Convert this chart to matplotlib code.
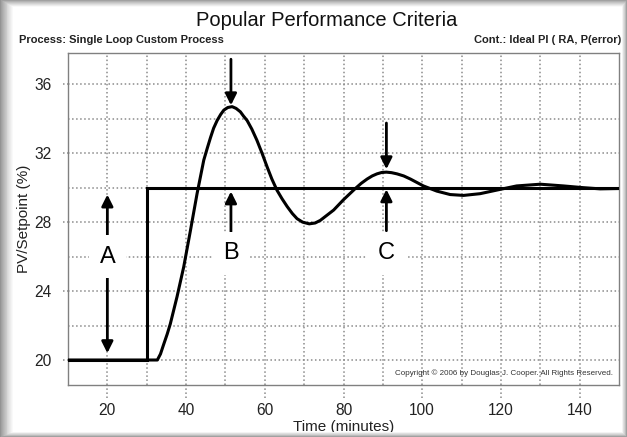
import numpy as np
import matplotlib
matplotlib.use("Agg")
import matplotlib.pyplot as plt
from matplotlib.patches import Rectangle

plt.rcParams['font.family'] = ['Liberation Sans', 'DejaVu Sans']

# data
time_pv = [10, 20, 30, 32.7, 33.5, 34.3, 35.2, 36.0, 37.7, 39.4, 41.1, 42.8, 44.5,
           45.4, 46.2, 47.0, 47.9, 48.8, 49.6, 50.6, 51.7, 52.7, 53.8, 54.6, 55.5,
           56.7, 58.0, 59.3, 60.6, 61.8, 63.1, 64.4, 65.7, 67.0, 68.2, 69.6, 71.3,
           72.8, 74.1, 75.8, 77.5, 80.0, 83.0, 84.5, 86.0, 87.3, 88.5, 89.7, 90.9,
           92.2, 93.6, 95.3, 97.0, 100.3, 103.7, 107.1, 110.5, 114.7, 119.8, 124.0,
           130.0, 135.9, 140.9, 145.2, 150]
pv = [20, 20, 20, 20.0, 20.35, 20.9, 21.5, 22.1, 23.67, 25.4, 27.5, 29.66, 31.6,
      32.3, 32.9, 33.45, 33.9, 34.25, 34.5, 34.65, 34.7, 34.6, 34.4, 34.15, 33.9,
      33.4, 32.75, 32.0, 31.2, 30.5, 29.85, 29.35, 28.9, 28.5, 28.2, 28.0, 27.9,
      27.95, 28.1, 28.4, 28.7, 29.3, 29.95, 30.25, 30.5, 30.68, 30.8, 30.88, 30.9,
      30.87, 30.8, 30.68, 30.5, 30.1, 29.8, 29.6, 29.55, 29.65, 29.9, 30.1,
      30.2, 30.1, 30.0, 29.93, 29.95]
time_sp = [10, 30, 30, 150]
setpoint = [20, 20, 30, 30]

xticks = [20, 40, 60, 80, 100, 120, 140]
yticks = [20, 24, 28, 32, 36]

marks = ["A", "B", "C"]
mark_x = [20, 51.4, 90.9]
mark_y = [26.0, 26.2, 26.2]

W, H = 627, 437
fig = plt.figure(figsize=(W / 100, H / 100), dpi=100)
fig.patch.set_facecolor('white')
ax = fig.add_axes([68 / W, 1 - 385 / H, (619 - 68) / W, (385 - 52.7) / H])

ax.plot(time_sp, setpoint, color='black', lw=2.2, solid_joinstyle='miter', zorder=3)
ax.plot(time_pv, pv, color='black', lw=2.2, solid_joinstyle='round', zorder=3)

ax.set_xlim(10, 150)
ax.set_ylim(18.55, 37.83)
ax.set_xticks(xticks)
ax.set_yticks(yticks)
ax.set_xticks(np.arange(30, 150, 20), minor=True)
ax.set_yticks(np.arange(22, 37, 4), minor=True)
ax.grid(True, which='both', color='#8a8a8a', ls=':', lw=1.1)
ax.tick_params(which='both', length=0, labelsize=11.2, colors='#222222')
ax.tick_params(axis='x', pad=13)
ax.tick_params(axis='y', pad=12)
for s in ax.spines.values():
    s.set_color('#808080')
    s.set_linewidth(1)

# grid lines poking out of the frame at the labelled ticks
ax.vlines(xticks, -0.039, 0, transform=ax.get_xaxis_transform(), clip_on=False,
          colors='#8a8a8a', linestyles=':', lw=1.1)
ax.hlines(yticks, -0.009, 0, transform=ax.get_yaxis_transform(), clip_on=False,
          colors='#8a8a8a', linestyles=':', lw=1.1)

ax.set_xlabel("Time (minutes)", fontsize=11, color='#222222')
ax.xaxis.set_label_coords(0.5, -0.127)
ax.xaxis.label.set_va('center')
ax.set_ylabel("PV/Setpoint (%)", fontsize=11, color='#222222')
ax.yaxis.set_label_coords(-0.08, 0.5)
ax.yaxis.label.set_va('center')

arrow = dict(arrowstyle='-|>', lw=2, color='black', mutation_scale=17,
             shrinkA=0, shrinkB=0)
# A : double arrow
ax.annotate("", xy=(20, 29.6), xytext=(20, 20.4),
            arrowprops=dict(arrow, arrowstyle='<|-|>'), zorder=4)
# B
ax.annotate("", xy=(51.4, 34.78), xytext=(51.4, 37.45), arrowprops=arrow, zorder=4)
ax.annotate("", xy=(51.4, 29.78), xytext=(51.4, 27.45), arrowprops=arrow, zorder=4)
# C
ax.annotate("", xy=(90.9, 31.07), xytext=(90.9, 33.75), arrowprops=arrow, zorder=4)
ax.annotate("", xy=(90.9, 29.9), xytext=(90.9, 27.5), arrowprops=arrow, zorder=4)

for m, x, y in zip(marks, mark_x, mark_y):
    ax.text(x, y, m, fontsize=17, ha='center', va='center', zorder=5,
            bbox=dict(boxstyle='square,pad=0.45', fc='white', ec='none'))

ax.text(0.99, 0.025, "Copyright \u00a9 2006 by Douglas J. Cooper. All Rights Reserved.",
        transform=ax.transAxes, fontsize=5.8, ha='right', va='bottom', color='#333333')

fig.text(327 / W, 1 - 21 / H, "Popular Performance Criteria", fontsize=14.5,
         ha='center', va='center', color='#111111')
fig.text(19 / W, 1 - 40 / H, "Process: Single Loop Custom Process", fontsize=8,
         fontweight='bold', ha='left', va='center', color='#222222')
fig.text(621 / W, 1 - 40 / H, "Cont.: Ideal PI ( RA, P(error)", fontsize=8,
         fontweight='bold', ha='right', va='center', color='#222222')

# soft grey frame round the picture
n = 14
for k in range(n):
    f = k / n
    g = 0.58 + 0.42 * f ** 0.8
    left, right, top, bot = 13 * f, 5 * f, 7 * f, 5 * f
    for (x0, y0, w, h) in [(left, bot, 13 / n, H - top - bot),
                           (W - right - 5 / n, bot, 5 / n, H - top - bot),
                           (left, H - top - 7 / n, W - left - right, 7 / n),
                           (left, bot, W - left - right, 5 / n)]:
        fig.add_artist(Rectangle((x0 / W, y0 / H), w / W, h / H, transform=fig.transFigure,
                                 fc=(g, g, g), ec='none', zorder=10))

fig.savefig("out.png", dpi=100)
